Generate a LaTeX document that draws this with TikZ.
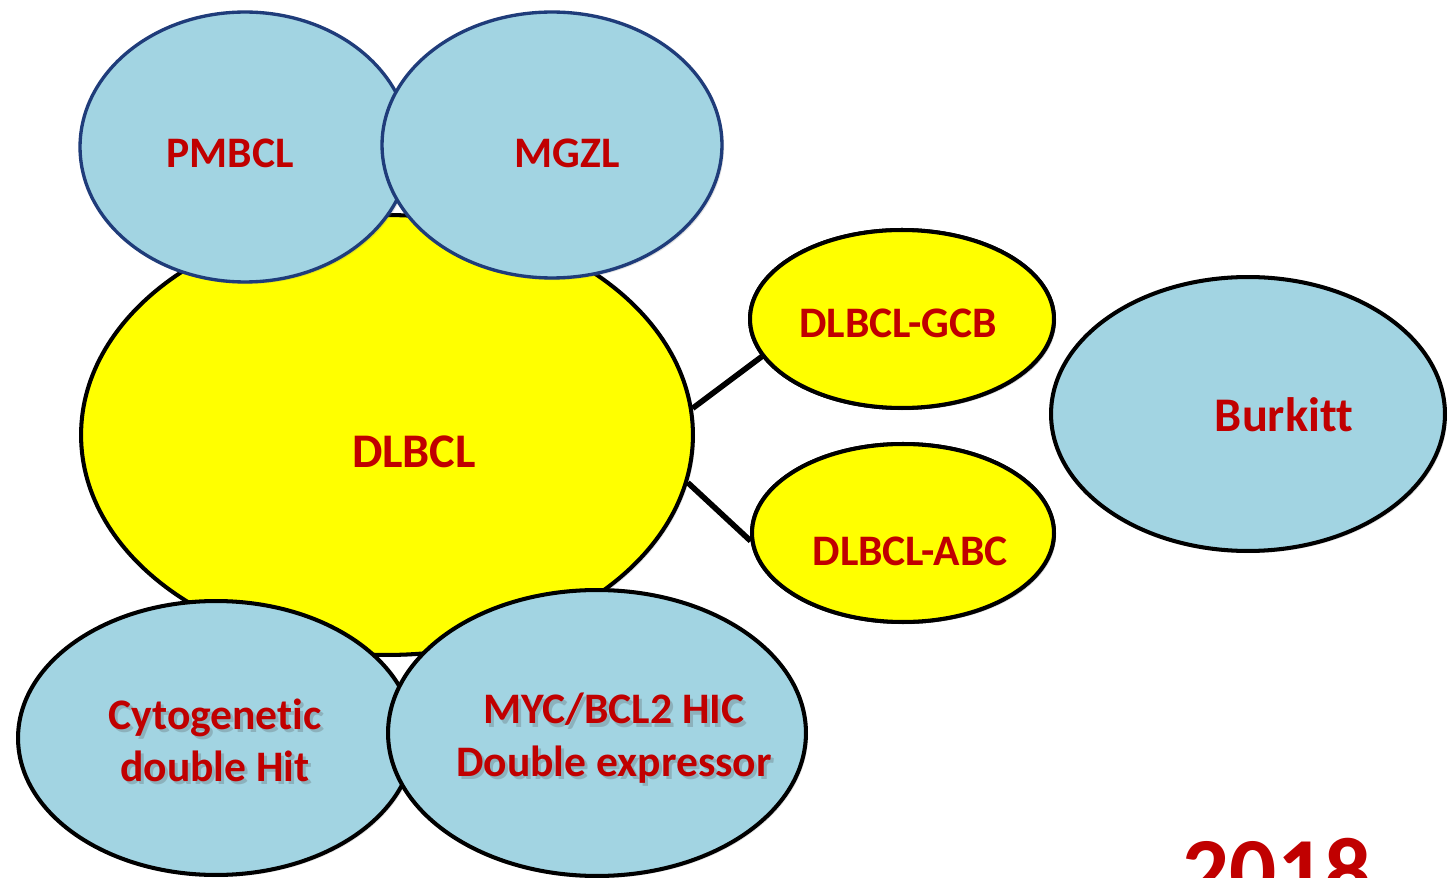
\documentclass[tikz,border=0pt]{standalone}
\usepackage{fontspec}
\setmainfont{Carlito}[RawFeature=-liga]
\usetikzlibrary{shapes.geometric,shadows}
\definecolor{cellblue}{RGB}{162,212,226}
\definecolor{cellyellow}{RGB}{255,255,0}
\definecolor{labelred}{RGB}{192,0,0}
\definecolor{rimblue}{RGB}{31,60,122}
\tikzset{
  blob/.style={ellipse, inner sep=0pt, line width=2.3pt, draw=black,
    drop shadow={shadow xshift=1.2pt, shadow yshift=-1.2pt, opacity=0.22}},
  bluebox/.style={blob, fill=cellblue},
  toprim/.style={draw=rimblue, line width=1.9pt},
  yellowbox/.style={blob, fill=cellyellow},
  lbl/.style={anchor=base, text=labelred, font=\bfseries\fontsize{24.8}{29}\selectfont, inner sep=0pt},
  biglbl/.style={lbl, font=\bfseries\fontsize{27.5}{32}\selectfont},
  ghost/.style={text=black!70, opacity=0.25},
  conn/.style={line width=3.2pt, draw=black},
}
\begin{document}
\begin{tikzpicture}[x=0.02cm, y=-0.02cm]
  \useasboundingbox (0,0) rectangle (1448,878);
  \clip (0,0) rectangle (1448,878);
  \fill[white] (0,0) rectangle (1448,878);

  % central lymphoma entity
  \node[yellowbox, minimum width=12.24cm, minimum height=8.8cm] (dlbcl) at (387,435) {};

  % cell-of-origin subtypes
  \node[yellowbox, minimum width=6.08cm, minimum height=3.56cm] (gcb) at (902,319) {};
  \node[yellowbox, minimum width=6.04cm, minimum height=3.56cm] (abc) at (903,533) {};
  \draw[conn] (dlbcl.5.2) -- (gcb.195);
  \draw[conn] (dlbcl.-9.8) -- (abc.183.5);
  \node[yellowbox, minimum width=6.08cm, minimum height=3.56cm] (gcbtop) at (902,319) {};
  \node[yellowbox, minimum width=6.04cm, minimum height=3.56cm] (abctop) at (903,533) {};

  % Burkitt lymphoma
  \node[bluebox, minimum width=7.88cm, minimum height=5.48cm] (burkitt) at (1248,414) {};

  % mediastinal entities
  \node[bluebox, toprim, minimum width=6.6cm, minimum height=5.4cm] (pmbcl) at (245,147) {};
  \node[bluebox, toprim, minimum width=6.8cm, minimum height=5.32cm] (mgzl) at (552,145) {};

  % double hit / double expressor
  \node[bluebox, minimum width=7.92cm, minimum height=5.48cm] (cyto) at (216,738) {};
  \node[bluebox, minimum width=8.36cm, minimum height=5.72cm] (myc) at (597,733) {};

  % labels
  \node[lbl] (tpmbcl) at (230,168) {PMBCL};
  \node[lbl] (tmgzl) at (567,168) {MGZL};
  \node[biglbl] (tdlbcl) at (414,468) {DLBCL};
  \node[lbl] (tgcb) at (898,338) {DLBCL-GCB};
  \node[lbl] (tabc) at (910,566) {DLBCL-ABC};
  \node[biglbl] (tburkitt) at (1284,432) {Burkitt};

  % two-line labels with a soft shadow behind them
  \node[lbl, ghost] (tcytoAsh) at (218,732) {Cytogenetic};
  \node[lbl, ghost] (tcytoBsh) at (218,784) {double Hit};
  \node[lbl] (tcytoA) at (215,729) {Cytogenetic};
  \node[lbl] (tcytoB) at (215,781) {double Hit};
  \node[lbl, ghost] (tmycAsh) at (617,727) {MYC/BCL2 HIC};
  \node[lbl, ghost] (tmycBsh) at (617,779) {Double expressor};
  \node[lbl] (tmycA) at (614,724) {MYC/BCL2 HIC};
  \node[lbl] (tmycB) at (614,776) {Double expressor};

  % year
  \node[lbl, font=\bfseries\fontsize{53}{60}\selectfont] (year) at (1277,902) {2018};
\end{tikzpicture}
\end{document}
